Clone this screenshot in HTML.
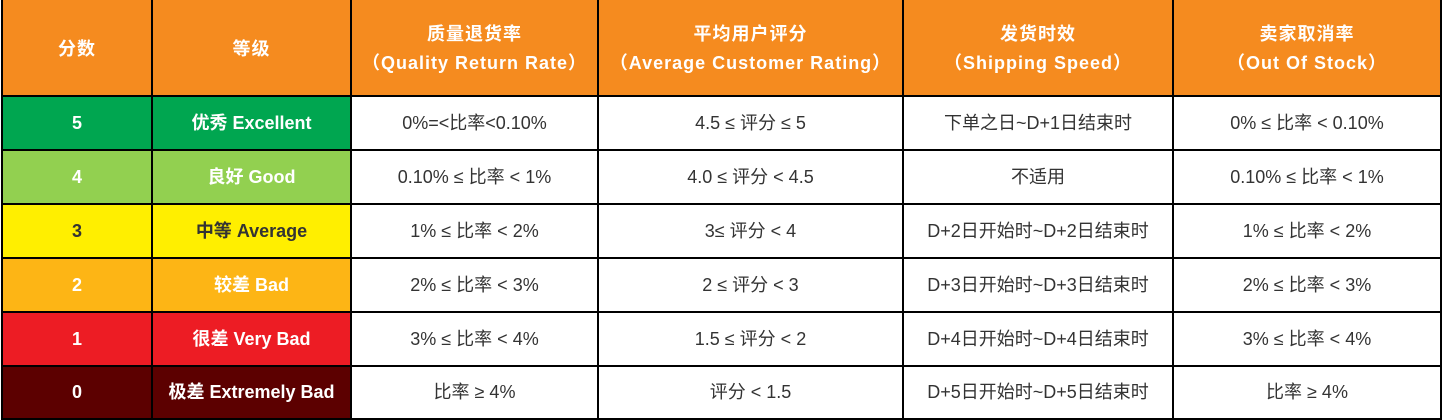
<!DOCTYPE html>
<html><head><meta charset="utf-8"><style>
body{margin:0;width:1443px;height:420px;background:#fff;overflow:hidden;font-family:"Liberation Sans","Noto Sans CJK SC",sans-serif;}
.c{position:absolute;display:flex;align-items:center;justify-content:center;text-align:center;box-sizing:border-box;font-size:18px;color:#333;line-height:29px;}
.h{background:#f58b1f;color:#fff;font-weight:bold;font-size:18px;letter-spacing:1px}
.l{position:absolute;background:#000}
</style></head><body>
<div id="t"></div>
<script>
const xs=[2,152,351,598,903,1173,1441];
const ys=[0,96,150,204,258,312,366,419];
const hdr=["分数","等级","质量退货率<br>（Quality Return Rate）","平均用户评分<br>（Average Customer Rating）","发货时效<br>（Shipping Speed）","卖家取消率<br>（Out Of Stock）"];
const rows=[
["5","优秀 Excellent","0%=&lt;比率&lt;0.10%","4.5 ≤ 评分 ≤ 5","下单之日~D+1日结束时","0% ≤ 比率 &lt; 0.10%","#00a650","#fff"],
["4","良好 Good","0.10% ≤ 比率 &lt; 1%","4.0 ≤ 评分 &lt; 4.5","不适用","0.10% ≤ 比率 &lt; 1%","#92d050","#fff"],
["3","中等 Average","1% ≤ 比率 &lt; 2%","3≤ 评分 &lt; 4","D+2日开始时~D+2日结束时","1% ≤ 比率 &lt; 2%","#ffef00","#333"],
["2","较差 Bad","2% ≤ 比率 &lt; 3%","2 ≤ 评分 &lt; 3","D+3日开始时~D+3日结束时","2% ≤ 比率 &lt; 3%","#fdb515","#fff"],
["1","很差 Very Bad","3% ≤ 比率 &lt; 4%","1.5 ≤ 评分 &lt; 2","D+4日开始时~D+4日结束时","3% ≤ 比率 &lt; 4%","#ed1c24","#fff"],
["0","极差 Extremely Bad","比率 ≥ 4%","评分 &lt; 1.5","D+5日开始时~D+5日结束时","比率 ≥ 4%","#5c0000","#fff"]];
let h="";
function cell(x0,x1,y0,y1,cls,st,txt){h+=`<div class="c ${cls}" style="left:${x0}px;top:${y0}px;width:${x1-x0}px;height:${y1-y0}px;${st}">${txt}</div>`;}
for(let i=0;i<6;i++)cell(xs[i],xs[i+1],ys[0],ys[1],"h","padding-top:2px;",hdr[i]);
rows.forEach((r,j)=>{for(let i=0;i<6;i++){let st="";if(i<2){st=`background:${r[6]};color:${r[7]};font-weight:bold;`;}cell(xs[i],xs[i+1],ys[j+1],ys[j+2],"",st,r[i]);}});
xs.forEach(x=>h+=`<div class="l" style="left:${x-1}px;top:0;width:2px;height:420px"></div>`);
ys.slice(1).forEach(y=>h+=`<div class="l" style="left:1px;top:${y-1}px;width:1441px;height:2px"></div>`);
document.getElementById("t").innerHTML=h;
</script>
</body></html>
